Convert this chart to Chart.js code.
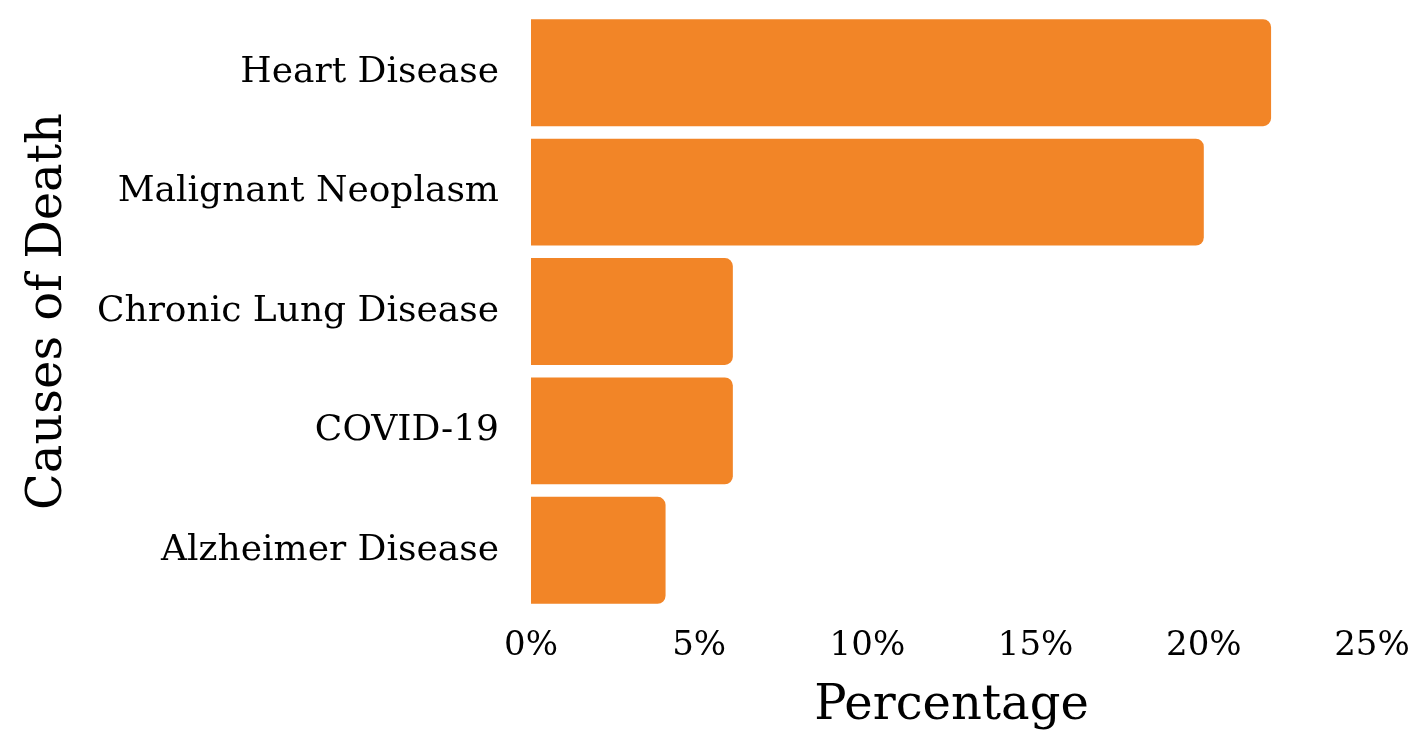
<!DOCTYPE html>
<html>
<head>
<meta charset="utf-8">
<script src="https://cdn.jsdelivr.net/npm/chart.js@4"></script>
<style>
html,body{margin:0;padding:0;background:#fff;}
#wrap{width:1415px;height:735px;}
</style>
</head>
<body>
<div id="wrap"><canvas id="c" width="1415" height="735"></canvas></div>
<script>
const categories = ["Heart Disease", "Malignant Neoplasm", "Chronic Lung Disease", "COVID-19", "Alzheimer Disease"];
const percentages = [22, 20, 6, 6, 4];
const xTicks = [0, 5, 10, 15, 20, 25];

const FONT = "'DejaVu Serif', Georgia, serif";
new Chart(document.getElementById('c'), {
  type: 'bar',
  data: {
    labels: categories,
    datasets: [{
      data: percentages,
      backgroundColor: '#F28527',
      borderRadius: 8,
      borderSkipped: 'start',
      barPercentage: 0.895,
      categoryPercentage: 1.0
    }]
  },
  options: {
    indexAxis: 'y',
    responsive: false,
    animation: false,
    layout: { padding: { top: 13, right: 43, left: 0, bottom: 0 } },
    plugins: { legend: { display: false }, tooltip: { enabled: false } },
    scales: {
      x: {
        min: 0, max: 25,
        afterBuildTicks: s => { s.ticks = xTicks.map(v => ({ value: v })); },
        grid: { display: false, drawTicks: false },
        border: { display: false },
        ticks: { color: '#000', font: { family: FONT, size: 34 }, padding: 16, callback: v => v + '%', maxRotation: 0 },
        title: { display: true, text: 'Percentage', color: '#000', font: { family: FONT, size: 48 }, padding: { top: 6, bottom: 0 } },
        afterFit: s => { s.height = 125; s.paddingLeft = 0; s.paddingRight = 0; }
      },
      y: {
        grid: { display: false, drawTicks: false },
        border: { display: false },
        ticks: { color: '#000', font: { family: FONT, size: 36 }, padding: 32 },
        title: { display: true, text: 'Causes of Death', color: '#000', font: { family: FONT, size: 48 }, padding: { top: 20, bottom: 10 } },
        afterFit: s => { s.width = 531; s.paddingTop = 0; s.paddingBottom = 0; }
      }
    }
  }
});
</script>
</body>
</html>
